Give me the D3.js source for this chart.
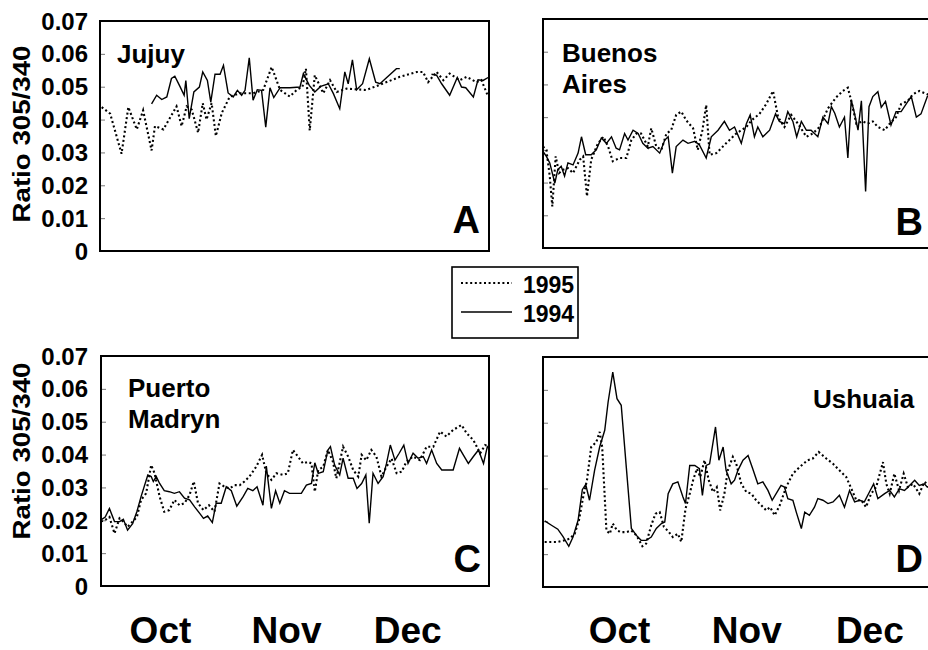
<!DOCTYPE html>
<html>
<head>
<meta charset="utf-8">
<script src="https://cdn.jsdelivr.net/npm/d3@7"></script>
<style>
  html, body { margin: 0; padding: 0; background: #fff; }
  svg { display: block; font-family: "Liberation Sans", Arial, Helvetica, sans-serif; }
</style>
</head>
<body>
<svg id="chart" width="928" height="650"></svg>
<script>
// ---------------- DATA (day index: 0 = Oct 1, value = ratio 305/340) ----------------
const yTicks = [0, 0.01, 0.02, 0.03, 0.04, 0.05, 0.06, 0.07];
const monthLabels = ["Oct", "Nov", "Dec"];
const monthDaysLeft = [14.1, 44.0, 72.7];
const monthDaysRight = [18.1, 48.2, 77.3];
const seriesNames = ["1995", "1994"];

const jujuy1995 = [[0.4,0.0438],[2.4,0.0418],[5.1,0.0296],[6.7,0.0438],[8.7,0.037],[10.2,0.0428],[12.2,0.0306],[13.0,0.038],[15.0,0.037],[18.1,0.044],[19.3,0.038],[20.5,0.044],[21.7,0.043],[23.2,0.036],[24.3,0.045],[25.2,0.040],[26.4,0.045],[27.4,0.035],[28.8,0.042],[30.7,0.047],[33.1,0.048],[36.2,0.048],[38.6,0.049],[40.6,0.056],[42.6,0.049],[44.9,0.047],[46.5,0.049],[47.9,0.050],[48.7,0.0555],[49.6,0.0367],[50.8,0.0535],[52.8,0.048],[54.4,0.052],[56.0,0.0484],[58.3,0.0494],[63.0,0.049],[67.0,0.051],[70.9,0.053],[74.9,0.0545],[76.4,0.0545],[77.6,0.0514],[79.6,0.0545],[81.2,0.052],[82.7,0.054],[85.1,0.052],[86.7,0.053],[89.0,0.0514],[90.2,0.052],[91.8,0.047]];
const jujuy1994 = [[12.2,0.0448],[13.4,0.0474],[14.6,0.0461],[15.8,0.0469],[16.9,0.0525],[17.7,0.0532],[18.9,0.0501],[19.9,0.0474],[20.3,0.0519],[21.1,0.0403],[22.2,0.0484],[23.5,0.0499],[24.3,0.0545],[25.4,0.0519],[26.2,0.0453],[27.2,0.0538],[28.4,0.0538],[29.2,0.0565],[30.3,0.0481],[31.5,0.0469],[32.5,0.0489],[33.5,0.0474],[34.3,0.0489],[35.3,0.0588],[36.2,0.0459],[37.2,0.0491],[38.2,0.0489],[39.2,0.0377],[40.2,0.0497],[41.1,0.0467],[42.6,0.0497],[44.9,0.0497],[47.3,0.0499],[48.1,0.054],[49.5,0.0504],[50.8,0.0484],[52.2,0.0501],[54.0,0.0509],[55.2,0.0479],[56.7,0.0433],[57.9,0.0545],[58.7,0.0509],[59.7,0.0582],[60.7,0.0491],[62.1,0.0509],[63.7,0.0585],[65.2,0.0514],[66.2,0.0509],[70.1,0.0555],[70.9,0.0555],[74.5,null],[78.4,0.0538],[79.6,0.0535],[80.8,0.0509],[82.7,0.0474],[84.5,0.0528],[85.5,0.0499],[86.5,0.0497],[88.3,0.0469],[89.4,0.0521],[90.6,0.0519],[91.8,0.0528]];

const buenos1995 = [[0,0.031],[0.8,0.030],[1.6,0.0219],[2.2,0.0127],[3.0,0.028],[3.8,0.0229],[4.7,0.0239],[5.9,0.0244],[7.1,0.0229],[8.7,0.027],[9.5,0.028],[10.4,0.0158],[11.4,0.027],[13.0,0.032],[14.3,0.034],[15.4,0.031],[16.5,0.0265],[18.1,0.0275],[19.7,0.0275],[20.9,0.033],[22.1,0.035],[23.2,0.035],[24.8,0.031],[25.6,0.0366],[26.8,0.031],[28.0,0.030],[29.2,0.035],[30.3,0.036],[31.5,0.0407],[32.7,0.0417],[33.9,0.039],[35.5,0.0366],[36.6,0.030],[37.7,0.036],[38.6,0.0437],[39.4,0.0285],[41.0,0.029],[43.3,0.032],[45.7,0.035],[48.1,0.037],[49.3,0.039],[51.2,0.041],[52.8,0.044],[54.4,0.048],[55.6,0.040],[57.1,0.037],[58.7,0.0407],[60.3,0.038],[62.3,0.034],[63.8,0.035],[65.4,0.037],[67.4,0.0427],[69.3,0.046],[70.9,0.048],[72.1,0.049],[72.9,0.045],[74.1,0.038],[75.6,0.0387],[76.8,0.038],[78.0,0.0387],[79.2,0.037],[80.8,0.036],[82.0,0.038],[83.5,0.040],[84.7,0.044],[86.3,0.045],[87.5,0.047],[89.0,0.048],[90.9,0.047],[91.9,0.046]];
const buenos1994 = [[0,0.0295],[0.8,0.028],[1.6,0.026],[2.8,0.0198],[3.5,0.024],[4.3,0.025],[5.1,0.022],[5.9,0.026],[7.1,0.0254],[8.3,0.029],[9.1,0.034],[10.1,0.0285],[11.4,0.0285],[12.6,0.030],[13.8,0.0336],[15.0,0.032],[16.2,0.034],[17.3,0.0305],[18.1,0.030],[19.3,0.035],[20.1,0.033],[21.3,0.036],[22.5,0.035],[23.6,0.032],[24.8,0.0305],[26.0,0.031],[27.6,0.029],[28.8,0.033],[29.6,0.034],[30.6,0.0229],[31.5,0.031],[33.1,0.033],[34.3,0.032],[35.9,0.0326],[37.0,0.0315],[38.6,0.0275],[39.8,0.034],[41.4,0.036],[42.9,0.0387],[44.1,0.036],[45.3,0.037],[46.9,0.032],[48.1,0.038],[49.0,0.0407],[50.0,0.034],[50.8,0.037],[52.0,0.034],[53.6,0.036],[55.0,0.041],[55.9,0.0387],[57.1,0.038],[57.9,0.0417],[59.1,0.0387],[60.0,0.034],[61.1,0.0387],[62.3,0.036],[63.4,0.036],[65.0,0.034],[66.2,0.040],[67.4,0.038],[68.2,0.0432],[69.0,0.0412],[70.1,0.037],[71.3,0.040],[72.1,0.0275],[72.9,0.0453],[73.7,0.041],[74.5,0.036],[75.3,0.045],[76.3,0.0173],[77.1,0.0432],[78.0,0.0463],[79.2,0.0478],[80.0,0.043],[81.0,0.0448],[82.3,0.0376],[83.5,0.0417],[84.7,0.0417],[86.3,0.0448],[87.1,0.0463],[88.3,0.040],[89.4,0.041],[90.9,0.0463],[91.9,0.047]];

const madryn1995 = [[0,0.0196],[1.0,0.0201],[2.0,0.021],[3.2,0.016],[4.4,0.0206],[5.3,0.0196],[6.3,0.018],[7.5,0.0196],[8.5,0.021],[9.5,0.0262],[10.7,0.0282],[11.9,0.0368],[12.7,0.0343],[13.9,0.0272],[15.0,0.0226],[16.2,0.0231],[17.4,0.0262],[18.6,0.0246],[19.8,0.0252],[21.0,0.0277],[22.0,0.0318],[23.0,0.0252],[24.3,0.0231],[25.6,0.0246],[26.9,0.0226],[28.1,0.0312],[29.3,0.0302],[30.5,0.0297],[31.7,0.0307],[32.9,0.0307],[34.0,0.0318],[35.2,0.0333],[36.8,0.0363],[38.2,0.0399],[39.2,0.0343],[40.4,0.0323],[41.6,0.0343],[43.2,0.0338],[44.3,0.0343],[45.5,0.0414],[46.7,0.0394],[47.9,0.0373],[49.1,0.0378],[49.9,0.0373],[50.7,0.0287],[51.5,0.0353],[52.7,0.0363],[53.8,0.0414],[55.0,0.0378],[55.8,0.0328],[57.4,0.0424],[58.6,0.0394],[59.8,0.0353],[61.0,0.0333],[61.8,0.0399],[62.9,0.0383],[64.1,0.0414],[65.3,0.0394],[66.5,0.0333],[67.7,0.0363],[68.9,0.0388],[70.1,0.0343],[71.3,0.0348],[72.4,0.0378],[74.0,0.0394],[75.6,0.0383],[77.2,0.0424],[78.8,0.0424],[80.4,0.047],[81.9,0.0455],[83.5,0.0475],[85.5,0.049],[86.7,0.0465],[88.3,0.0444],[89.9,0.0404],[91.1,0.0429],[92.0,0.0424]];
const madryn1994 = [[0,0.0201],[1.0,0.021],[2.0,0.0236],[3.2,0.0196],[4.4,0.0196],[5.3,0.0203],[6.3,0.017],[7.5,0.019],[8.5,0.0226],[9.5,0.0272],[11.1,0.0338],[11.9,0.0333],[12.4,0.0318],[13.1,0.0333],[13.9,0.0312],[15.0,0.029],[16.2,0.0287],[17.4,0.0282],[18.6,0.0287],[19.8,0.0267],[21.0,0.0262],[22.2,0.0241],[23.4,0.0221],[24.3,0.0206],[25.3,0.0213],[26.4,0.0193],[27.3,0.0252],[28.5,0.0252],[29.7,0.0302],[30.9,0.029],[32.2,0.0243],[33.7,0.0272],[34.8,0.0297],[36.0,0.029],[37.0,0.0302],[38.4,0.0246],[39.2,0.0365],[40.4,0.0236],[41.4,0.029],[42.4,0.0252],[43.5,0.029],[44.7,0.0282],[46.3,0.0282],[47.5,0.0282],[48.7,0.0307],[49.9,0.0312],[50.7,0.0375],[51.5,0.0343],[52.7,0.0348],[53.8,0.0414],[54.4,0.0424],[55.4,0.0368],[56.6,0.0338],[57.4,0.0389],[58.6,0.0328],[59.8,0.0328],[60.7,0.0297],[61.8,0.0312],[62.8,0.0338],[63.6,0.0191],[64.5,0.0343],[65.7,0.0312],[66.9,0.0333],[67.7,0.0373],[68.6,0.0429],[69.7,0.0383],[70.7,0.0404],[71.8,0.0429],[72.8,0.0373],[74.0,0.0404],[75.2,0.0389],[76.4,0.0394],[77.2,0.0373],[78.4,0.0414],[79.6,0.0373],[80.8,0.0353],[82.3,0.0353],[83.5,0.0353],[85.0,0.0419],[85.9,0.0399],[87.1,0.0373],[88.3,0.0394],[89.5,0.0414],[90.7,0.0373],[91.6,0.0424],[92.0,0.0418]];

const ushuaia1995 = [[0.4,0.0137],[2.0,0.0137],[3.5,0.0137],[5.1,0.0142],[6.3,0.0147],[7.5,0.0162],[8.5,0.0203],[9.5,0.0274],[10.4,0.0325],[11.4,0.0426],[12.6,0.0441],[13.4,0.0472],[14.0,0.0426],[15.0,0.0172],[15.8,0.0162],[16.5,0.0193],[17.5,0.0172],[18.5,0.0167],[19.7,0.0167],[20.9,0.0172],[22.1,0.0157],[23.5,0.0124],[24.4,0.0132],[25.6,0.0188],[26.6,0.0223],[27.6,0.0228],[28.6,0.0183],[29.8,0.0167],[30.7,0.0152],[31.9,0.0162],[32.7,0.0137],[33.7,0.0238],[34.7,0.0284],[35.5,0.0325],[36.4,0.036],[37.2,0.0335],[38.2,0.0386],[39.2,0.0325],[40.2,0.0289],[41.1,0.0304],[41.9,0.0233],[42.9,0.0284],[43.7,0.0355],[44.9,0.0396],[45.7,0.0375],[46.9,0.0314],[48.1,0.0289],[49.3,0.0284],[50.4,0.0264],[51.6,0.0249],[52.8,0.0233],[53.7,0.0243],[54.8,0.0218],[56.0,0.0249],[57.5,0.0304],[59.1,0.0345],[60.7,0.0365],[62.6,0.0386],[63.8,0.0391],[65.2,0.0411],[67.0,0.0391],[68.6,0.0375],[70.1,0.0355],[71.7,0.0335],[73.1,0.0294],[74.1,0.0264],[75.3,0.0264],[76.4,0.0243],[77.6,0.0284],[78.8,0.0304],[80.4,0.038],[81.2,0.0314],[82.0,0.0284],[83.1,0.0345],[84.2,0.0294],[85.3,0.0345],[86.3,0.0304],[87.5,0.0314],[89.0,0.0284],[90.2,0.032],[90.9,0.0314],[91.9,0.031]];
const ushuaia1994 = [[0.4,0.0201],[2.0,0.0188],[3.5,0.0176],[4.7,0.0154],[6.1,0.0124],[7.1,0.0152],[8.3,0.0203],[9.3,0.0296],[10.1,0.0312],[11.0,0.0264],[12.2,0.0355],[13.4,0.0426],[14.6,0.0477],[15.4,0.0563],[16.5,0.0654],[17.5,0.0573],[18.5,0.0553],[19.7,0.0365],[20.9,0.0178],[22.1,0.0157],[23.2,0.0142],[24.4,0.0142],[25.6,0.0152],[26.8,0.0178],[28.0,0.0193],[28.8,0.0198],[29.6,0.0284],[30.7,0.0314],[31.9,0.032],[33.1,0.0274],[33.7,0.0254],[34.7,0.037],[35.9,0.037],[37.0,0.036],[37.7,0.0279],[38.6,0.037],[39.4,0.0375],[40.8,0.0487],[41.6,0.0386],[42.6,0.0426],[43.3,0.0355],[44.5,0.0314],[45.3,0.0325],[46.1,0.0355],[47.3,0.0386],[48.5,0.040],[49.6,0.036],[50.8,0.0314],[52.0,0.032],[53.2,0.0294],[54.2,0.0264],[55.6,0.0294],[56.3,0.0309],[57.1,0.0304],[57.9,0.0269],[59.1,0.0264],[59.9,0.0228],[61.1,0.0178],[61.9,0.0228],[63.0,0.0218],[64.2,0.0243],[65.0,0.0269],[66.2,0.0264],[67.4,0.0254],[68.6,0.0259],[70.1,0.0279],[71.3,0.0243],[72.5,0.0294],[73.7,0.0259],[74.9,0.0264],[76.0,0.0259],[77.2,0.0289],[78.2,0.0314],[79.2,0.0269],[80.8,0.0284],[82.0,0.0294],[83.1,0.0274],[84.3,0.0299],[85.5,0.0294],[86.7,0.0309],[87.9,0.0325],[89.0,0.0309],[90.2,0.0314],[90.9,0.0304],[91.9,0.031]];

// ---------------- LAYOUT ----------------
const panels = [
  { id: "A", x0: 100, x1: 489, y0: 21,  y1: 251, title: ["Jujuy"], tx: 117, ty: 63, letterBase: 233, left: true,
    s95: jujuy1995, s94: jujuy1994, axisTitleY: 134 },
  { id: "B", x0: 543, x1: 932, y0: 19,  y1: 248, title: ["Buenos", "Aires"], tx: 562, ty: 62, letterBase: 235, left: false,
    s95: buenos1995, s94: buenos1994 },
  { id: "C", x0: 101, x1: 489, y0: 356, y1: 586, title: ["Puerto", "Madryn"], tx: 128, ty: 397, letterBase: 572, left: true,
    s95: madryn1995, s94: madryn1994, axisTitleY: 451 },
  { id: "D", x0: 543, x1: 932, y0: 357, y1: 587, title: ["Ushuaia"], tx: 813, ty: 408, letterBase: 572, left: false,
    s95: ushuaia1995, s94: ushuaia1994 }
];

const svg = d3.select("#chart");
const DOT = "2,2.6";

panels.forEach((p, i) => {
  const x = d3.scaleLinear().domain([0, 92]).range([p.x0, p.x1]);
  const y = d3.scaleLinear().domain([0, 0.07]).range([p.y1, p.y0]);
  const g = svg.append("g");
  const clipId = "clip" + i;
  svg.append("clipPath").attr("id", clipId).append("rect")
    .attr("x", p.x0).attr("y", p.y0).attr("width", p.x1 - p.x0).attr("height", p.y1 - p.y0);

  // inner minor ticks on the left
  const ax = d3.axisLeft(y).tickValues(yTicks.slice(1, -1)).tickSize(-5).tickFormat("");
  const axG = g.append("g").attr("transform", `translate(${p.x0},0)`).call(ax);
  axG.select(".domain").remove();
  axG.selectAll(".tick line").attr("stroke", "#777").attr("stroke-width", 1);

  const line = d3.line()
    .defined(d => d[1] != null)
    .x(d => x(d[0])).y(d => y(d[1]));

  const lg = g.append("g").attr("clip-path", `url(#${clipId})`);
  lg.append("path").datum(p.s95).attr("d", line)
    .attr("fill", "none").attr("stroke", "#000").attr("stroke-width", 2.1)
    .attr("stroke-dasharray", DOT);
  lg.append("path").datum(p.s94).attr("d", line)
    .attr("fill", "none").attr("stroke", "#000").attr("stroke-width", 1.4)
    .attr("stroke-linejoin", "miter");

  // frame
  g.append("rect").attr("x", p.x0).attr("y", p.y0)
    .attr("width", p.x1 - p.x0).attr("height", p.y1 - p.y0)
    .attr("fill", "none").attr("stroke", "#000").attr("stroke-width", 2);

  // y tick labels + title on left panels
  if (p.left) {
    g.selectAll(".yl").data(yTicks).join("text")
      .attr("x", 88).attr("y", d => y(d)).attr("dy", "0.36em")
      .attr("text-anchor", "end").attr("font-size", 24).attr("font-weight", "bold")
      .text(d => d === 0 ? "0" : d3.format(".2f")(d));
    g.append("text")
      .attr("transform", `translate(30,${p.axisTitleY}) rotate(-90)`)
      .attr("text-anchor", "middle").attr("font-size", 24).attr("font-weight", "bold")
      .attr("textLength", 177).attr("lengthAdjust", "spacingAndGlyphs")
      .text("Ratio 305/340");
  }

  // station title
  p.title.forEach((t, k) => {
    g.append("text").attr("x", p.tx).attr("y", p.ty + k * 31)
      .attr("font-size", 26).attr("font-weight", "bold").text(t);
  });

  // panel letter
  g.append("text").attr("x", p.x0 + 380).attr("y", p.letterBase)
    .attr("text-anchor", "end").attr("font-size", 38).attr("font-weight", "bold")
    .text(p.id);
});

// month labels under bottom panels
[[panels[2], monthDaysLeft], [panels[3], monthDaysRight]].forEach(([p, days]) => {
  const x = d3.scaleLinear().domain([0, 92]).range([p.x0, p.x1]);
  svg.append("g").selectAll("text").data(monthLabels).join("text")
    .attr("x", (d, k) => x(days[k])).attr("y", 643)
    .attr("text-anchor", "middle").attr("font-size", 37).attr("font-weight", "bold")
    .text(d => d);
});

// legend
const leg = svg.append("g");
leg.append("rect").attr("x", 452).attr("y", 267).attr("width", 126).attr("height", 71)
  .attr("fill", "#fff").attr("stroke", "#000").attr("stroke-width", 1.6);
seriesNames.forEach((s, k) => {
  const yy = 283 + k * 29;
  leg.append("line").attr("x1", 461).attr("x2", 512).attr("y1", yy).attr("y2", yy)
    .attr("stroke", "#000").attr("stroke-width", k === 0 ? 2 : 1.4)
    .attr("stroke-dasharray", k === 0 ? DOT : null);
  leg.append("text").attr("x", 523).attr("y", yy + 10)
    .attr("font-size", 23).attr("font-weight", "bold").text(s);
});
</script>
</body>
</html>
